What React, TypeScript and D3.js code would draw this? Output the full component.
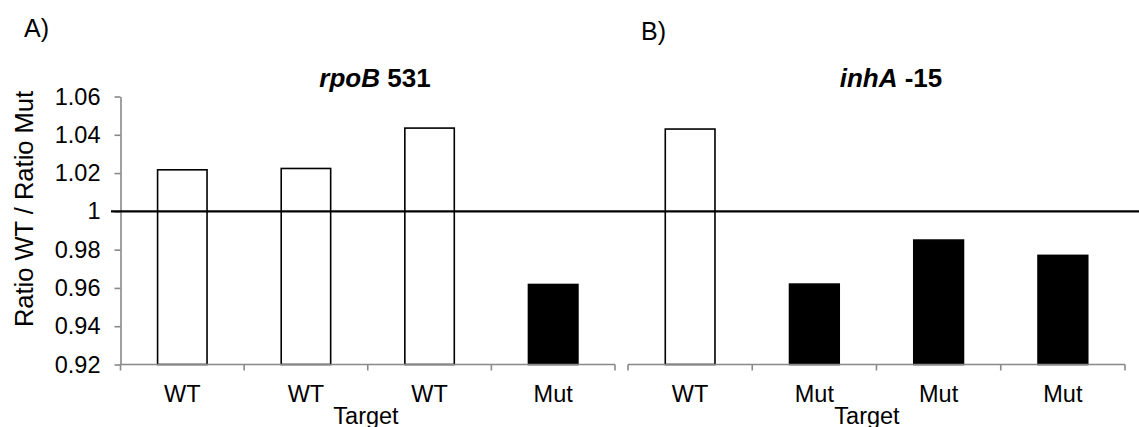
import React, { useEffect, useRef } from "react";
import * as d3 from "d3";

// panel A: rpoB 531
const leftCategories = ["WT", "WT", "WT", "Mut"];
const leftValues = [1.0217, 1.0224, 1.0435, 0.9618];
// panel B: inhA -15
const rightCategories = ["WT", "Mut", "Mut", "Mut"];
const rightValues = [1.043, 0.962, 0.985, 0.977];

const yTicks = [0.92, 0.94, 0.96, 0.98, 1, 1.02, 1.04, 1.06];
const reference = 1;

const App = () => {
  const svgRef = useRef<SVGSVGElement>(null);

  useEffect(() => {
    const width = 1139;
    const height = 427;
    const font = "'Liberation Sans', Arial, sans-serif";
    const axisColor = "#898989";

    const svg = d3.select(svgRef.current)
      .attr("width", width)
      .attr("height", height)
      .attr("viewBox", [0, 0, width, height].join(" "));
    svg.selectAll("*").remove();

    const yScale = d3.scaleLinear()
      .domain([0.92, 1.06])
      .range([364.5, 96.5]);

    const panels = [
      { cats: leftCategories, vals: leftValues, range: [120.5, 615], title: ["rpoB", " 531"], titleX: 375, targetX: 366 },
      { cats: rightCategories, vals: rightValues, range: [628, 1125], title: ["inhA", " -15"], titleX: 891, targetX: 867 },
    ];

    panels.forEach((p) => {
      const xScale = d3.scaleBand<number>()
        .domain(d3.range(p.cats.length))
        .range(p.range as [number, number])
        .padding(0);
      const bw = xScale.bandwidth();
      const barW = bw * 0.4;

      // bars
      svg.append("g")
        .selectAll("rect")
        .data(p.vals)
        .enter()
        .append("rect")
        .attr("x", (d, i) => (xScale(i) as number) + (bw - barW) / 2)
        .attr("y", (d) => yScale(d))
        .attr("width", barW)
        .attr("height", (d) => yScale(0.92) - yScale(d))
        .attr("fill", (d, i) => (p.cats[i] === "WT" ? "#fff" : "#000"))
        .attr("stroke", "#000")
        .attr("stroke-width", 1.6);

      // x axis, ticks between categories
      const gx = svg.append("g").attr("stroke", axisColor).attr("stroke-width", 1.6);
      gx.append("line")
        .attr("x1", p.range[0]).attr("x2", p.range[1])
        .attr("y1", yScale(0.92)).attr("y2", yScale(0.92));
      const bounds = d3.range(p.cats.length + 1).map((i) =>
        i < p.cats.length ? (xScale(i) as number) : p.range[1]);
      gx.selectAll("line.tick")
        .data(bounds)
        .enter()
        .append("line")
        .attr("class", "tick")
        .attr("x1", (d) => d).attr("x2", (d) => d)
        .attr("y1", yScale(0.92)).attr("y2", yScale(0.92) + 6);

      // category labels
      svg.append("g")
        .selectAll("text")
        .data(p.cats)
        .enter()
        .append("text")
        .attr("x", (d, i) => (xScale(i) as number) + bw / 2)
        .attr("y", 402)
        .attr("text-anchor", "middle")
        .attr("font-family", font)
        .attr("font-size", 23.5)
        .text((d) => d);

      svg.append("text")
        .attr("x", p.targetX)
        .attr("y", 424)
        .attr("text-anchor", "middle")
        .attr("font-family", font)
        .attr("font-size", 23.5)
        .text("Target");

      const t = svg.append("text")
        .attr("x", p.titleX)
        .attr("y", 87)
        .attr("text-anchor", "middle")
        .attr("font-family", font)
        .attr("font-size", 26)
        .attr("font-weight", "bold");
      t.append("tspan").attr("font-style", "italic").text(p.title[0]);
      t.append("tspan").text(p.title[1]);
    });

    // y axis
    const yAxis = d3.axisLeft(yScale)
      .tickValues(yTicks)
      .tickSize(6)
      .tickSizeOuter(0)
      .tickPadding(14)
      .tickFormat((d) => (d === 1 ? "1" : d3.format(".2f")(d as number)));
    const gy = svg.append("g")
      .attr("transform", "translate(120.5,0)")
      .call(yAxis);
    gy.selectAll("path, line").attr("stroke", axisColor).attr("stroke-width", 1.6);
    gy.selectAll("text")
      .attr("font-family", font)
      .attr("font-size", 23.5)
      .attr("fill", "#000");

    // reference line at 1
    svg.append("line")
      .attr("x1", 111).attr("x2", width)
      .attr("y1", yScale(reference)).attr("y2", yScale(reference))
      .attr("stroke", "#000")
      .attr("stroke-width", 2.2);

    svg.append("text")
      .attr("x", 33)
      .attr("y", 209)
      .attr("transform", "rotate(-90,33,209)")
      .attr("text-anchor", "middle")
      .attr("font-family", font)
      .attr("font-size", 25.5)
      .text("Ratio WT / Ratio Mut");

    svg.append("text").attr("x", 24).attr("y", 37)
      .attr("font-family", font).attr("font-size", 25).text("A)");
    svg.append("text").attr("x", 641).attr("y", 40)
      .attr("font-family", font).attr("font-size", 25).text("B)");
  }, []);

  return (
    <div style={{ position: "fixed", left: 0, top: 0, background: "#fff" }}>
      <svg ref={svgRef} style={{ display: "block" }}></svg>
    </div>
  );
};

export default App;
